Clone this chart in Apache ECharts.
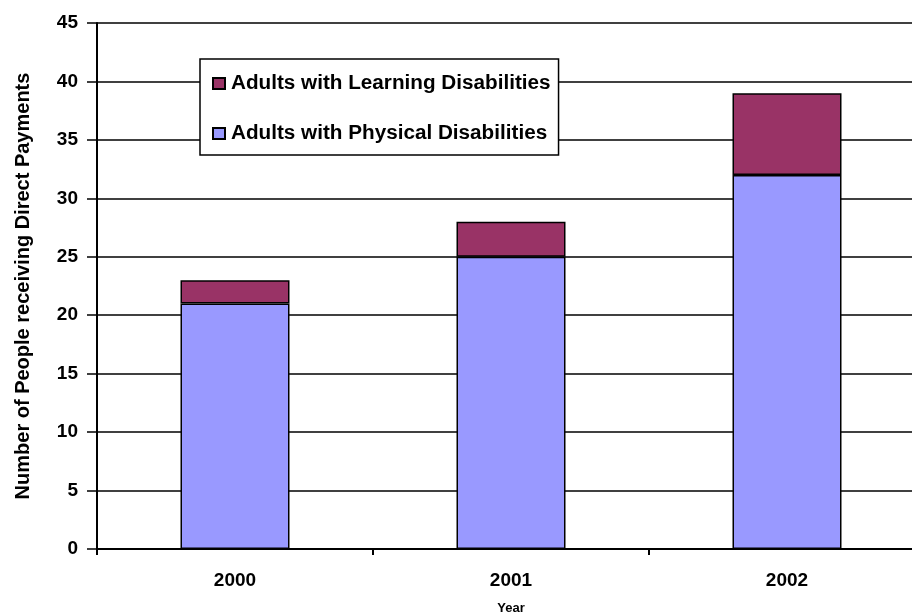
<!DOCTYPE html>
<html>
<head>
<meta charset="utf-8">
<script src="https://cdn.jsdelivr.net/npm/echarts@6/dist/echarts.min.js"></script>
<style>
  html, body { margin: 0; padding: 0; background: #fff; }
  #chart { width: 912px; height: 615px; }
</style>
</head>
<body>
<div id="chart"></div>
<script>
// Direct payments by year, split by type of disability
const years = ['2000', '2001', '2002'];
const physical = [21, 25, 32];
const learning = [2, 3, 7];
const yTicks = { min: 0, max: 45, interval: 5 };

const FONT = '"Liberation Sans", Arial, sans-serif';

const chart = echarts.init(document.getElementById('chart'), null, { renderer: 'canvas' });

chart.setOption({
  animation: false,
  backgroundColor: '#ffffff',
  textStyle: { fontFamily: FONT, color: '#000' },
  grid: {
    left: 97, top: 23, width: 828, bottom: 66,
    containLabel: false,
    outerBoundsMode: 'none'
  },
  legend: {
    orient: 'vertical',
    left: 200,
    top: 59,
    data: ['Adults with Learning Disabilities', 'Adults with Physical Disabilities'],
    backgroundColor: '#ffffff',
    borderColor: '#000',
    borderWidth: 1.5,
    padding: [14, 8, 11, 12],
    itemGap: 29,
    itemWidth: 12,
    itemHeight: 11,
    icon: 'rect',
    textStyle: { fontFamily: FONT, fontSize: 20.7, fontWeight: 'bold', color: '#000', padding: [0, 0, 0, 1] }
  },
  xAxis: {
    type: 'category',
    data: years,
    boundaryGap: true,
    name: 'Year',
    nameLocation: 'middle',
    nameGap: 53,
    nameTextStyle: { fontFamily: FONT, fontSize: 13, fontWeight: 'bold', color: '#000' },
    axisLine: { show: true, lineStyle: { color: '#000', width: 2 } },
    axisTick: { show: true, length: 6, lineStyle: { color: '#000', width: 2 } },
    axisLabel: { margin: 22, fontFamily: FONT, fontSize: 19, fontWeight: 'bold', color: '#000' },
    splitLine: { show: false }
  },
  yAxis: {
    type: 'value',
    min: yTicks.min,
    max: yTicks.max,
    interval: yTicks.interval,
    name: 'Number of People receiving Direct Payments',
    nameLocation: 'middle',
    nameGap: 64,
    nameTextStyle: { fontFamily: FONT, fontSize: 20, fontWeight: 'bold', color: '#000' },
    axisLine: { show: true, lineStyle: { color: '#000', width: 2 } },
    axisTick: { show: true, length: 10, lineStyle: { color: '#000', width: 1.5 } },
    axisLabel: { margin: 19, fontFamily: FONT, fontSize: 19, fontWeight: 'bold', color: '#000' },
    splitLine: { show: true, lineStyle: { color: '#000', width: 1.5 } }
  },
  series: [
    {
      name: 'Adults with Physical Disabilities',
      type: 'bar',
      stack: 'total',
      data: physical,
      barWidth: 109,
      itemStyle: { color: '#9999FF', borderColor: '#000', borderWidth: 1.5 }
    },
    {
      name: 'Adults with Learning Disabilities',
      type: 'bar',
      stack: 'total',
      data: learning,
      barWidth: 109,
      itemStyle: { color: '#993366', borderColor: '#000', borderWidth: 1.5 }
    }
  ]
});
</script>
</body>
</html>
